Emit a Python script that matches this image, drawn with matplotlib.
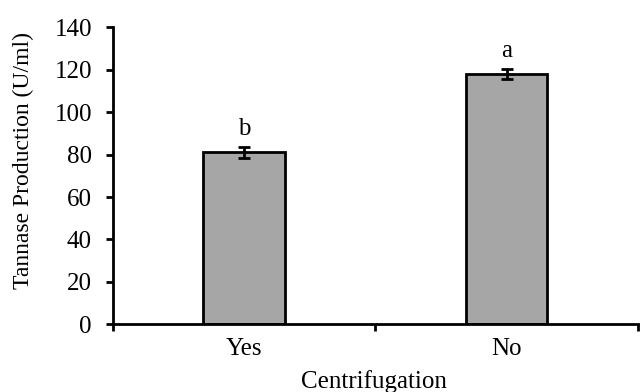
import numpy as np
import matplotlib.pyplot as plt

# tannase production with and without centrifugation
categories = ["Yes", "No"]
production = [81, 118]
std_err = [2.5, 2.2]
letters = ["b", "a"]

plt.rcParams["font.family"] = ["Liberation Serif", "DejaVu Serif"]
plt.rcParams["font.size"] = 18

fig = plt.figure(figsize=(6.41, 3.92), dpi=100)
ax = fig.add_axes([0.176, 0.173, 0.819, 0.757])

x = np.arange(len(categories))
ax.bar(x, production, width=0.31, color="#A6A6A6", edgecolor="black", linewidth=2.0, zorder=2)
ax.errorbar(x, production, yerr=std_err, fmt="none", ecolor="black",
            elinewidth=2.0, capsize=4.5, capthick=2.0, zorder=3)

for xi, val, err, lab in zip(x, production, std_err, letters):
    ax.annotate(lab, (xi, val + err), xytext=(0, 5.5), textcoords="offset points",
                ha="center", va="bottom", fontsize=18)

ax.set_xlim(-0.5, 1.5)
ax.set_ylim(0, 140)
ax.set_yticks(np.arange(0, 141, 20))

# category labels centred, tick marks on the boundaries
ax.set_xticks([-0.5, 0.5, 1.5])
ax.set_xticklabels([])
ax.set_xticks(x, minor=True)
ax.set_xticklabels(categories, minor=True)
ax.tick_params(axis="x", which="minor", length=0, pad=10, labelsize=18)
ax.tick_params(axis="x", which="major", direction="out", length=5, width=2)
ax.tick_params(axis="y", direction="out", length=5, width=2, pad=10, labelsize=18)

for side in ["top", "right"]:
    ax.spines[side].set_visible(False)
for side in ["left", "bottom"]:
    ax.spines[side].set_linewidth(2)

ax.set_ylabel("Tannase Production (U/ml)", fontsize=17)
ax.yaxis.set_label_coords(-0.150, 0.55)
ax.set_xlabel("Centrifugation", fontsize=18)
ax.xaxis.set_label_coords(0.497, -0.155)

fig.savefig("out.png", dpi=100)
